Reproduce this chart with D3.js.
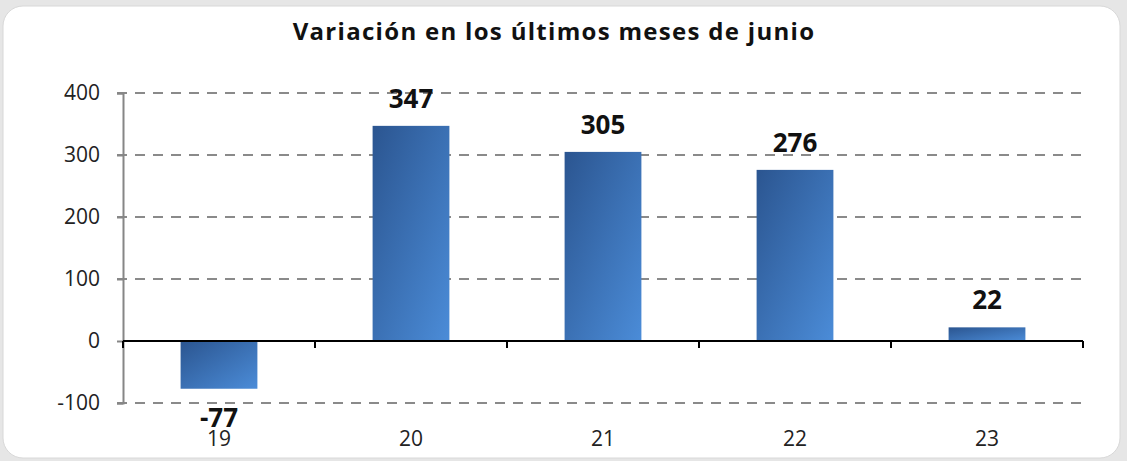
<!DOCTYPE html>
<html>
<head>
<meta charset="utf-8">
<script src="https://cdn.jsdelivr.net/npm/d3@7"></script>
<style>
  body { margin: 0; background: #e6e6e6; }
  text { font-family: "Open Sans", Lato, sans-serif; }
</style>
</head>
<body>
<div id="chart"></div>
<script>
// Chart values.
var years = ["19", "20", "21", "22", "23"];
var variation = [-77, 347, 305, 276, 22];
var yTicks = [-100, 0, 100, 200, 300, 400];
var chartTitle = "Variación en los últimos meses de junio";

var width = 1127, height = 461;
var m = { left: 123, right: 44, top: 93, bottom: 58 };

var svg = d3.select("#chart").append("svg")
    .attr("width", width)
    .attr("height", height);

// Bar gradient, dark top-left to light bottom-right.
var grad = svg.append("defs").append("linearGradient")
    .attr("id", "barGrad")
    .attr("x1", 0).attr("y1", 0).attr("x2", 1).attr("y2", 1);
grad.append("stop").attr("offset", "0%").attr("stop-color", "#2b5590");
grad.append("stop").attr("offset", "100%").attr("stop-color", "#4b8cd8");

// White card.
svg.append("rect")
    .attr("x", 3).attr("y", 6)
    .attr("width", 1117).attr("height", 452)
    .attr("rx", 20).attr("ry", 20)
    .style("fill", "#fff")
    .style("stroke", "#d8d8d8");

svg.append("text")
    .attr("x", 554)
    .attr("y", 40)
    .attr("text-anchor", "middle")
    .style("font-size", "24px")
    .style("font-weight", "bold")
    .style("letter-spacing", "1.3px")
    .style("fill", "#111")
    .text(chartTitle);

var x = d3.scaleBand()
    .domain(years)
    .range([m.left, width - m.right])
    .paddingInner(0.6)
    .paddingOuter(0.3);

var y = d3.scaleLinear()
    .domain([-100, 400])
    .range([403, 93]);

// Gridlines (dashed), also serving as left ticks.
svg.append("g")
    .selectAll("line")
    .data(yTicks.filter(function(d) { return d !== 0; }))
    .enter().append("line")
    .attr("x1", m.left - 6)
    .attr("x2", width - m.right)
    .attr("y1", function(d) { return y(d); })
    .attr("y2", function(d) { return y(d); })
    .style("stroke", "#8a8a8a")
    .style("stroke-width", 2)
    .style("stroke-dasharray", "10,8");

// Y axis.
var yAxis = svg.append("g")
    .attr("transform", "translate(" + m.left + ",0)")
    .call(d3.axisLeft(y).tickValues(yTicks).tickSize(6).tickPadding(17)
        .tickFormat(function(d) { return String(d); }));
yAxis.select(".domain").style("stroke", "#868686").style("stroke-width", 2);
yAxis.selectAll(".tick line").style("stroke", "#868686").style("stroke-width", 2);
yAxis.selectAll(".tick text")
    .style("font-size", "21px")
    .style("fill", "#222");

// Bars.
svg.append("g")
    .selectAll("rect")
    .data(variation)
    .enter().append("rect")
    .attr("x", function(d, i) { return x(years[i]); })
    .attr("width", x.bandwidth())
    .attr("y", function(d) { return y(Math.max(0, d)); })
    .attr("height", function(d) { return Math.abs(y(d) - y(0)); })
    .style("fill", "url(#barGrad)");

// X axis at zero.
var step = x.step();
var boundaries = years.map(function(d, i) { return m.left + step * (i + 1); });
svg.append("line")
    .attr("x1", m.left).attr("x2", width - m.right)
    .attr("y1", y(0)).attr("y2", y(0))
    .style("stroke", "#000").style("stroke-width", 2);
svg.append("g")
    .selectAll("line")
    .data([m.left].concat(boundaries))
    .enter().append("line")
    .attr("x1", function(d) { return d; })
    .attr("x2", function(d) { return d; })
    .attr("y1", y(0))
    .attr("y2", y(0) + 7)
    .style("stroke", "#000").style("stroke-width", 2);

// Category labels at the bottom.
svg.append("g")
    .selectAll("text")
    .data(years)
    .enter().append("text")
    .attr("x", function(d) { return x(d) + x.bandwidth() / 2; })
    .attr("y", 446)
    .attr("text-anchor", "middle")
    .style("font-size", "21px")
    .style("fill", "#222")
    .text(function(d) { return d; });

// Value labels.
svg.append("g")
    .selectAll("text")
    .data(variation)
    .enter().append("text")
    .attr("x", function(d, i) { return x(years[i]) + x.bandwidth() / 2; })
    .attr("y", function(d) { return d >= 0 ? y(d) - 18 : y(d) + 38; })
    .attr("text-anchor", "middle")
    .style("font-size", "26px")
    .style("font-weight", "bold")
    .style("fill", "#111")
    .text(function(d) { return d; });
</script>
</body>
</html>
